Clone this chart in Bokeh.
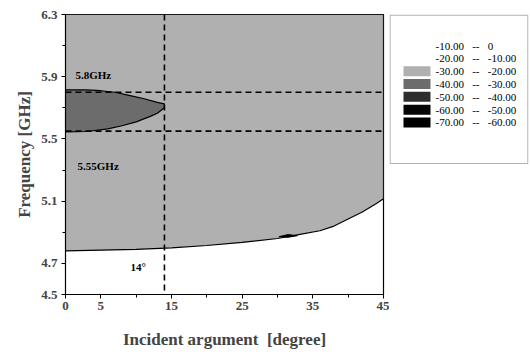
from bokeh.plotting import figure
from bokeh.layouts import row
from bokeh.models import (Range1d, FixedTicker, Span, Label, BoxAnnotation, ColumnDataSource)
from bokeh.core.properties import value
from bokeh.embed import file_html
from bokeh.resources import INLINE

# ---- data ----
# lower edge of the -30..-20 dB region (degree, GHz)
edge_deg = [0, 5, 10, 15, 20, 25, 30, 33, 36, 38, 40, 42, 44, 45]
edge_ghz = [4.78, 4.785, 4.79, 4.80, 4.815, 4.835, 4.86, 4.885, 4.91, 4.94, 4.985, 5.03, 5.085, 5.115]

# -40..-30 dB region: upper and lower edges (degree, GHz)
dark_up_deg = [0, 3, 5, 7, 9, 11, 13, 14]
dark_up_ghz = [5.816, 5.815, 5.81, 5.80, 5.78, 5.76, 5.735, 5.725]
dark_lo_deg = [14, 13, 12, 10, 8, 6, 3, 0]
dark_lo_ghz = [5.70, 5.665, 5.645, 5.61, 5.585, 5.565, 5.548, 5.545]

# small dark sliver near the lower edge
blip_deg = [30.2, 31.5, 32.8, 31.5, 30.2]
blip_ghz = [4.872, 4.885, 4.878, 4.868, 4.872]

ref_freqs = [5.8, 5.55]      # dashed horizontal markers (GHz)
ref_angle = 14               # dashed vertical marker (degree)

x_ticks = [0, 5, 15, 25, 35, 45]
x_minor = [10, 20, 30, 40]
y_ticks = [4.5, 4.7, 5.1, 5.5, 5.9, 6.3]
y_minor = [4.9, 5.3, 5.7, 6.1]

SEP = " \u00a0\u00a0--\u00a0\u00a0 "
legend_lo = ["-10.00", "-20.00", "-30.00", "-40.00", "-50.00", "-60.00", "-70.00"]
legend_hi = ["0", "-10.00", "-20.00", "-30.00", "-40.00", "-50.00", "-60.00"]
legend_labels = [lo + SEP + hi for lo, hi in zip(legend_lo, legend_hi)]
legend_colors = ["#ffffff", "#ffffff", "#b0b0b0", "#6c6c6c", "#2e2e2e", "#050505", "#000000"]
legend_alpha = [0, 0, 1, 1, 1, 1, 1]

SERIF = "Liberation Serif"

p = figure(width=389, height=360, output_backend="svg", toolbar_location=None,
           x_range=Range1d(0, 45), y_range=Range1d(4.5, 6.3),
           min_border_left=65, min_border_right=6, min_border_top=14, min_border_bottom=66)
p.background_fill_color = "white"
p.border_fill_color = "white"
p.outline_line_color = "black"
p.outline_line_width = 1.2
p.xgrid.visible = False
p.ygrid.visible = False

# -30..-20 region
gx = [0] + edge_deg + [45, 0]
gy = [6.3] + edge_ghz + [6.3, 6.3]
p.patch(gx, gy, fill_color=legend_colors[2], line_color="black", line_width=1.2)

# -40..-30 region
p.patch(dark_up_deg + dark_lo_deg, dark_up_ghz + dark_lo_ghz,
        fill_color=legend_colors[3], line_color="black", line_width=1.2)
p.patch(blip_deg, blip_ghz, fill_color="black", line_color="black", line_width=1)

for f in ref_freqs:
    p.add_layout(Span(location=f, dimension="width", line_color="black",
                      line_width=1.6, line_dash="6 4"))
p.add_layout(Span(location=ref_angle, dimension="height", line_color="black",
                  line_width=1.6, line_dash="6 4"))

for txt, xx, yy in [("5.8GHz", 1.4, 5.875), ("5.55GHz", 1.7, 5.29), ("14\u00b0", 9.2, 4.64)]:
    p.add_layout(Label(x=xx, y=yy, text=txt, text_font=SERIF, text_font_style="bold",
                       text_font_size="11px", text_color="black"))

# axes
p.xaxis.ticker = FixedTicker(ticks=x_ticks, minor_ticks=x_minor)
p.yaxis.ticker = FixedTicker(ticks=y_ticks, minor_ticks=y_minor)
p.xaxis.axis_label = "Incident argument\u00a0 [degree]"
p.yaxis.axis_label = "Frequency [GHz]"
for ax in (p.xaxis[0], p.yaxis[0]):
    ax.axis_label_text_font = SERIF
    ax.axis_label_text_font_style = "bold"
    ax.axis_label_text_font_size = "17px"
    ax.major_label_text_font = SERIF
    ax.major_label_text_font_style = "bold"
    ax.major_label_text_font_size = "13px"
    ax.axis_line_color = "black"
    ax.major_tick_line_color = "black"
    ax.minor_tick_line_color = "black"
    ax.major_tick_out = 4
    ax.major_tick_in = 0
    ax.minor_tick_out = 3
    ax.minor_tick_in = 0
p.xaxis.axis_label_standoff = 17
p.xaxis.major_label_standoff = 3
p.yaxis.axis_label_standoff = 4
p.yaxis.major_label_standoff = 4

# ---- legend panel: a second figure whose scales are in pixel-like units ----
q = figure(width=141, height=360, output_backend="svg", toolbar_location=None,
           x_range=Range1d(0, 139), y_range=Range1d(280, 0),
           min_border_left=0, min_border_right=2, min_border_top=14, min_border_bottom=66)
q.axis.visible = False
q.grid.visible = False
q.outline_line_alpha = 0
q.background_fill_color = "white"
q.border_fill_color = "white"

ROW0, ROWSTEP = 31, 12.83
rows = [ROW0 + ROWSTEP * i for i in range(len(legend_labels))]
src = ColumnDataSource(dict(y=rows, lab=legend_labels, col=legend_colors, a=legend_alpha))
q.rect(x=27.5, y="y", width=27, height=10, width_units="screen", height_units="screen",
       fill_color="col", fill_alpha="a", line_alpha=0, source=src)
q.text(x=46, y="y", text="lab", source=src, text_font=value(SERIF), text_font_size="11px",
       text_baseline="middle", text_align="left", text_color="black")
q.add_layout(BoxAnnotation(left=0.6, right=138.4, top=0.6, bottom=149,
                           fill_alpha=0, line_color="black", line_width=1.2))

layout = row(p, q)
open("out.html", "w").write(file_html(layout, INLINE))
